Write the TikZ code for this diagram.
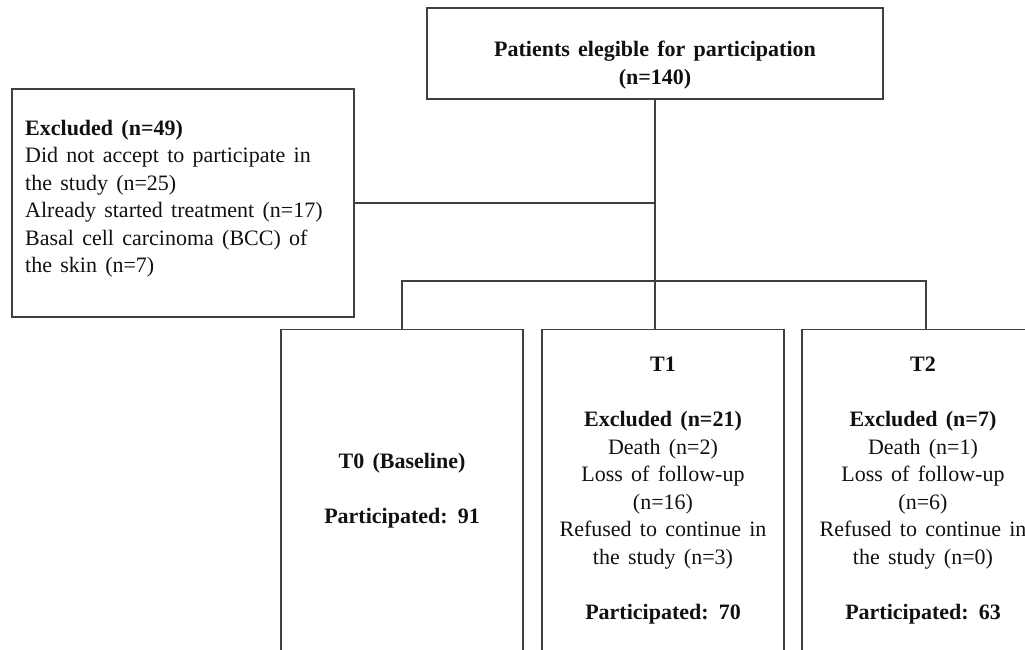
\documentclass[tikz,border=0pt]{standalone}
\usepackage{fontspec}
\setmainfont{Liberation Serif}[WordSpace=1.5]
\usepackage{xcolor}
\usepackage{tikz}
\usetikzlibrary{calc}
\definecolor{line}{HTML}{404040}
\definecolor{ink}{HTML}{111111}
\tikzset{
  box/.style={draw=line, line width=1.4pt, rectangle, inner sep=0pt},
  link/.style={draw=line, line width=1.4pt},
  txt/.style={text=ink, inner sep=0pt},
  hd/.style={text=ink, inner sep=0pt, font=\fontsize{22}{27.5}\selectfont\bfseries}
}

\begin{document}
\begin{tikzpicture}[x=1pt, y=-1pt, line cap=rect, line join=miter, every node/.style={font=\fontsize{22}{27.5}\selectfont}]
  \useasboundingbox (0,0) rectangle (1025,649);
  \clip (0,0) rectangle (1025,649);
  % boxes
  \node[box, minimum width=456pt, minimum height=91pt] (elig) at (655,53.5) {};
  \node[hd, align=center] (eligtxt) at (655,65) {Patients elegible for participation\\(n=140)};
  \node[box, minimum width=342pt, minimum height=228pt] (excl) at (183,203) {};
  \node[txt, align=left, anchor=north west] (excltxt) at (25,120)
    {\textbf{Excluded (n=49)}\\
     Did not accept to participate in\\
     the study (n=25)\\
     Already started treatment (n=17)\\
     Basal cell carcinoma (BCC) of\\
     the skin (n=7)};
  \node[box, txt, align=center, minimum width=242pt, minimum height=322pt, anchor=north] (t0) at (402,329)
    {\textbf{T0 (Baseline)}\\[27.5pt]\textbf{Participated: 91}};
  \node[box, txt, align=center, minimum width=242pt, minimum height=322pt, anchor=north] (t1) at (663,329)
    {\textbf{T1}\\[27.5pt]
     \textbf{Excluded (n=21)}\\
     Death (n=2)\\
     Loss of follow-up\\
     (n=16)\\
     Refused to continue in\\
     the study (n=3)\\[27.5pt]
     \textbf{Participated: 70}};
  \node[box, txt, align=center, minimum width=242pt, minimum height=322pt, anchor=north] (t2) at (923,329)
    {\textbf{T2}\\[27.5pt]
     \textbf{Excluded (n=7)}\\
     Death (n=1)\\
     Loss of follow-up\\
     (n=6)\\
     Refused to continue in\\
     the study (n=0)\\[27.5pt]
     \textbf{Participated: 63}};
  % connectors
  \coordinate (bus) at (655,281);
  \draw[link] (elig.south) -- (elig.south |- t1.north);
  \draw[link] (excl.east) -- (excl.east -| elig.south);
  \draw[link] (t0.north) -- (t0.north |- bus) -- ([xshift=3pt]t2.north |- bus) -- ([xshift=3pt]t2.north);
\end{tikzpicture}
\end{document}
